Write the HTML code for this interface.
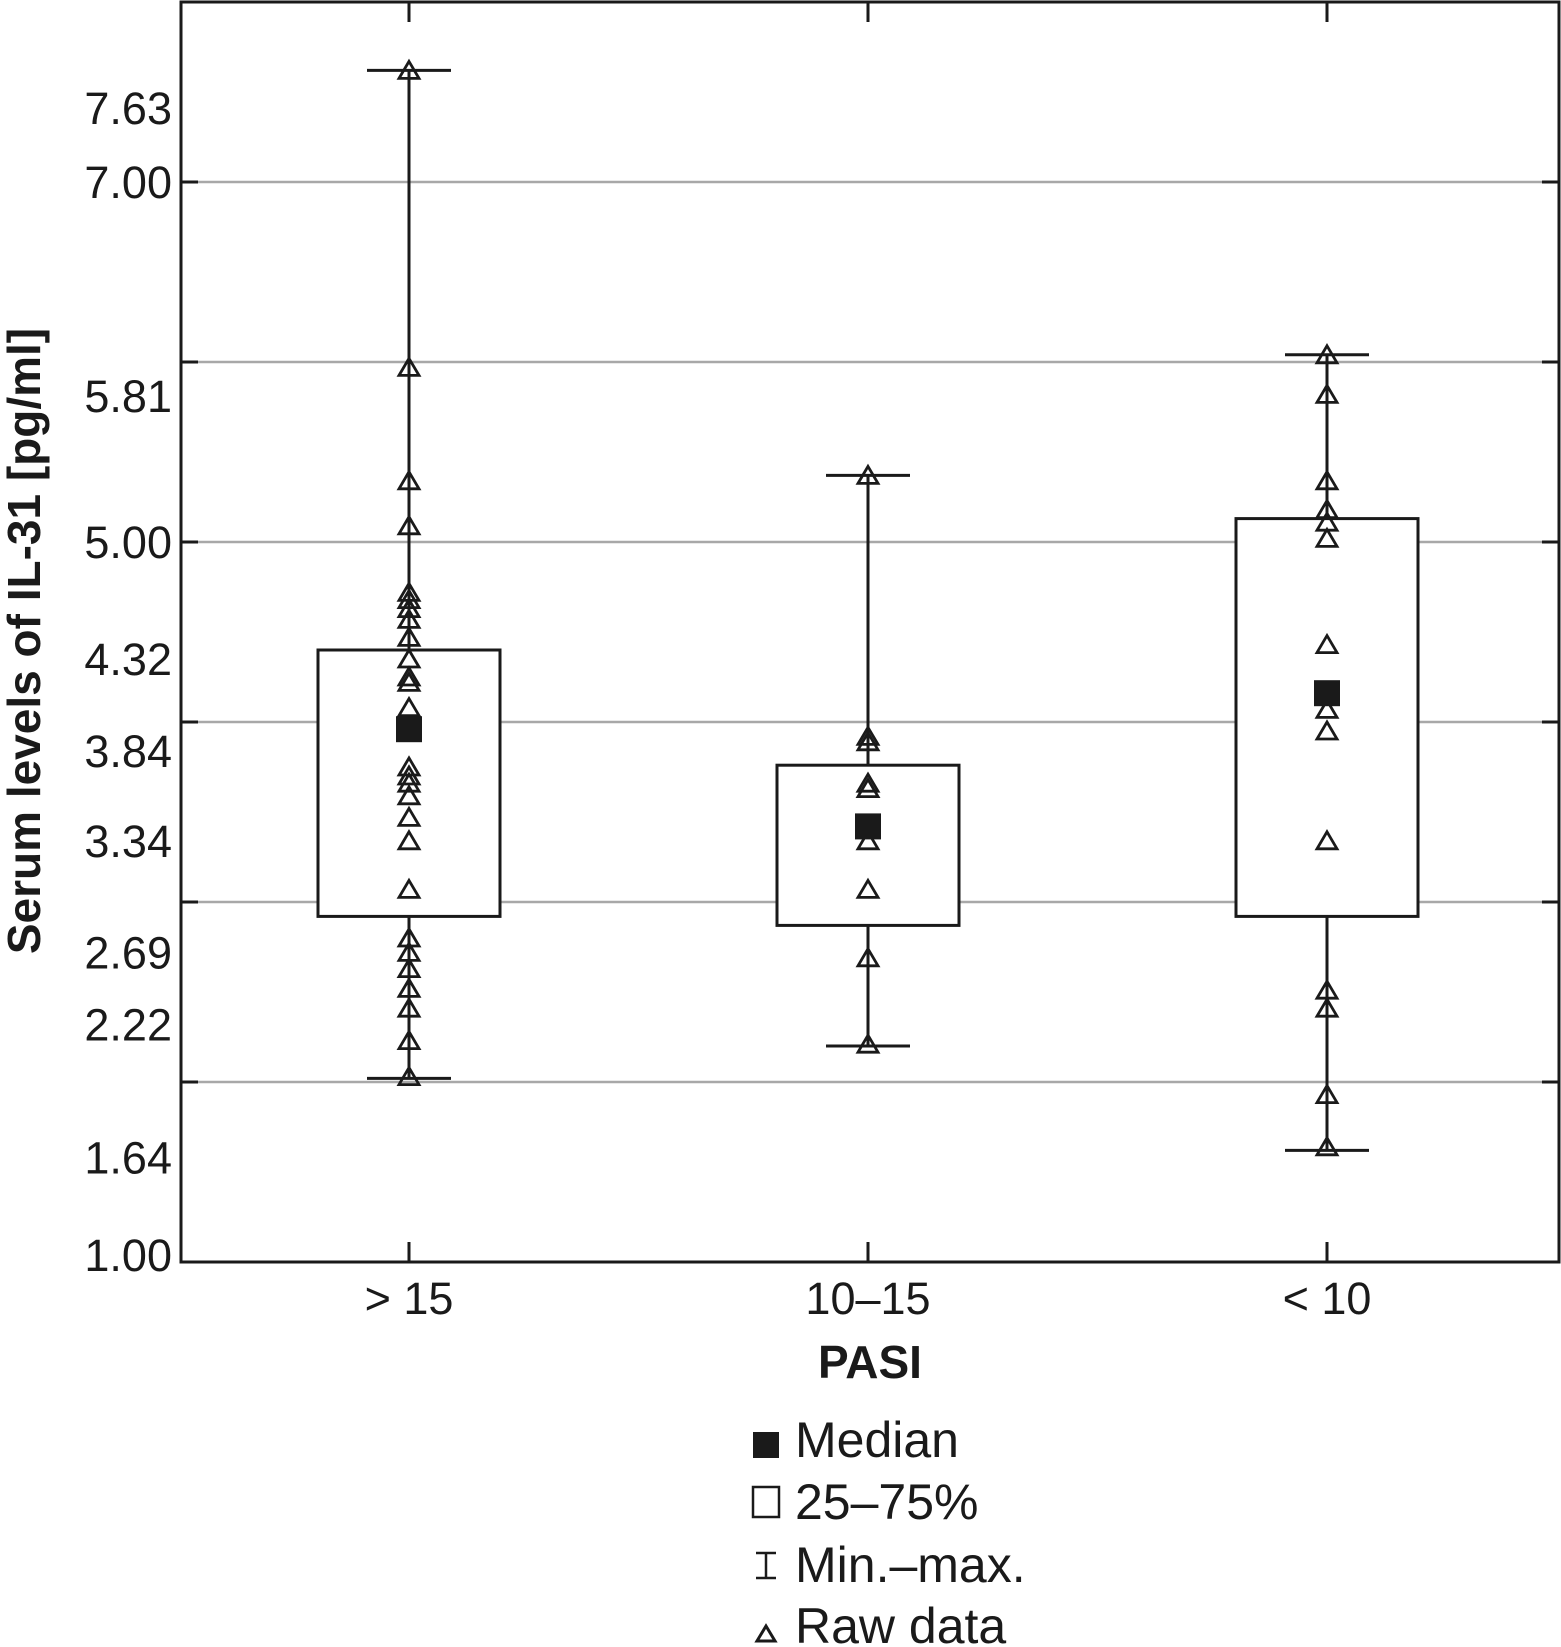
<!DOCTYPE html>
<html><head><meta charset="utf-8"><style>
html,body{margin:0;padding:0;background:#fff;}
svg{display:block;font-family:"Liberation Sans",sans-serif;}
</style></head><body>
<svg id="chart" width="1561" height="1647" viewBox="0 0 1561 1647" xmlns="http://www.w3.org/2000/svg">
<g id="grid"></g>
<g id="marks"></g>
<g id="axes"></g>
<text x="0" y="0" transform="translate(40,641) rotate(-90)" text-anchor="middle" font-size="46" font-weight="bold" fill="#1a1a1a">Serum levels of IL-31 [pg/ml]</text>
<text x="870" y="1378" text-anchor="middle" font-size="46" font-weight="bold" fill="#1a1a1a">PASI</text>
<g>
 <g><rect x="753" y="1432" width="26" height="26" fill="#1a1a1a"/><text x="795" y="1457" font-size="50" fill="#1a1a1a">Median</text></g>
 <g><rect x="753" y="1487" width="26" height="30" fill="none" stroke="#1a1a1a" stroke-width="2.5"/><text x="795" y="1519" font-size="50" fill="#1a1a1a">25–75%</text></g>
 <g><path d="M756 1553H776M766 1553V1578M756 1578H776" stroke="#1a1a1a" stroke-width="2.5" fill="none"/><text x="795" y="1582" font-size="50" fill="#1a1a1a">Min.–max.</text></g>
 <g><path d="M766 1626L775 1641H757Z" stroke="#1a1a1a" stroke-width="3" fill="none"/><text x="795" y="1643" font-size="50" fill="#1a1a1a">Raw data</text></g>
</g>
</svg>
<script>
const categories = ["> 15", "10–15", "< 10"];
const maxVals = [7.62, 5.37, 6.04];
const minVals = [2.02, 2.20, 1.62];
const q3Vals = [4.40, 3.76, 5.13];
const q1Vals = [2.92, 2.87, 2.92];
const medians = [3.96, 3.42, 4.16];
const raw0 = [7.62,5.97,5.34,5.09,4.72,4.68,4.63,4.57,4.47,4.35,4.25,4.22,4.08,3.75,3.70,3.66,3.59,3.47,3.34,3.07,2.80,2.72,2.63,2.52,2.41,2.23,2.03];
const raw1 = [5.37,3.92,3.89,3.66,3.63,3.34,3.07,2.69,2.21];
const raw2 = [6.04,5.82,5.34,5.18,5.11,5.02,4.43,4.07,3.95,3.34,2.51,2.41,1.93,1.64];
const rawData = [raw0, raw1, raw2];
const gridVals = [7,6,5,4,3,2];
const tickLabels = ["7.63","7.00","5.81","5.00","4.32","3.84","3.34","2.69","2.22","1.64","1.00"];
const labelAnchors = [7.41,7.00,5.81,5.00,4.35,3.84,3.34,2.72,2.32,1.58,1.04];

const NS="http://www.w3.org/2000/svg";
const L=181,R=1559,T=2,B=1262;
function y(v){return B-(v-1)*180;}
function x(i){return 409+i*459;}
function mk(tag,attrs,parent){const e=document.createElementNS(NS,tag);for(const k in attrs)e.setAttribute(k,attrs[k]);parent.appendChild(e);return e;}
const grid=document.getElementById('grid'),marks=document.getElementById('marks'),axes=document.getElementById('axes');
const ink="#1a1a1a";
gridVals.forEach(v=>{
 const l=mk('line',{x1:L,x2:R,y1:y(v),y2:y(v),stroke:"#a8a8a8","stroke-width":2.5},grid);
 
 
 const t1=mk('line',{x1:L,x2:L+17,y1:y(v),y2:y(v),stroke:ink,"stroke-width":3},axes);
 
 
 const t2=mk('line',{x1:R-17,x2:R,y1:y(v),y2:y(v),stroke:ink,"stroke-width":3},axes);
 
 
});
tickLabels.forEach((s,i)=>{
 const t=mk('text',{x:172,y:y(labelAnchors[i])+16,"text-anchor":"end","font-size":45,fill:ink},axes);
 t.textContent=s;
 
 
});
const frame=mk('rect',{x:L,y:T,width:R-L,height:B-T,fill:"none",stroke:ink,"stroke-width":3},axes);


categories.forEach((c,i)=>{
 const cx=x(i);
 const tb=mk('line',{x1:cx,x2:cx,y1:B-20,y2:B,stroke:ink,"stroke-width":3},axes);
 
 
 const tt=mk('line',{x1:cx,x2:cx,y1:T,y2:T+20,stroke:ink,"stroke-width":3},axes);
 
 
 const lab=mk('text',{x:cx,y:1314,"text-anchor":"middle","font-size":45,fill:ink},axes);
 lab.textContent=c;
 
 
 const g=mk('g',{},marks);
 
 
 const wh=mk('line',{x1:cx,x2:cx,y1:y(maxVals[i]),y2:y(minVals[i]),stroke:ink,"stroke-width":3},g);
 
 
 [maxVals[i],minVals[i]].forEach(v=>{
  const cap=mk('line',{x1:cx-42,x2:cx+42,y1:y(v),y2:y(v),stroke:ink,"stroke-width":3},g);
  
  
 });
 const box=mk('rect',{x:cx-91,y:y(q3Vals[i]),width:182,height:y(q1Vals[i])-y(q3Vals[i]),fill:"#fff",stroke:ink,"stroke-width":3},g);
 
 
 rawData[i].forEach(v=>{
  const yy=y(v);
  const p=mk('path',{d:`M${cx} ${yy-9}L${cx+10} ${yy+8}H${cx-10}Z`,fill:"none",stroke:ink,"stroke-width":2.8},g);
  
  
 });
 const md=mk('rect',{x:cx-13,y:y(medians[i])-13,width:26,height:26,fill:ink},g);
 
 
});
</script>
</body></html>
